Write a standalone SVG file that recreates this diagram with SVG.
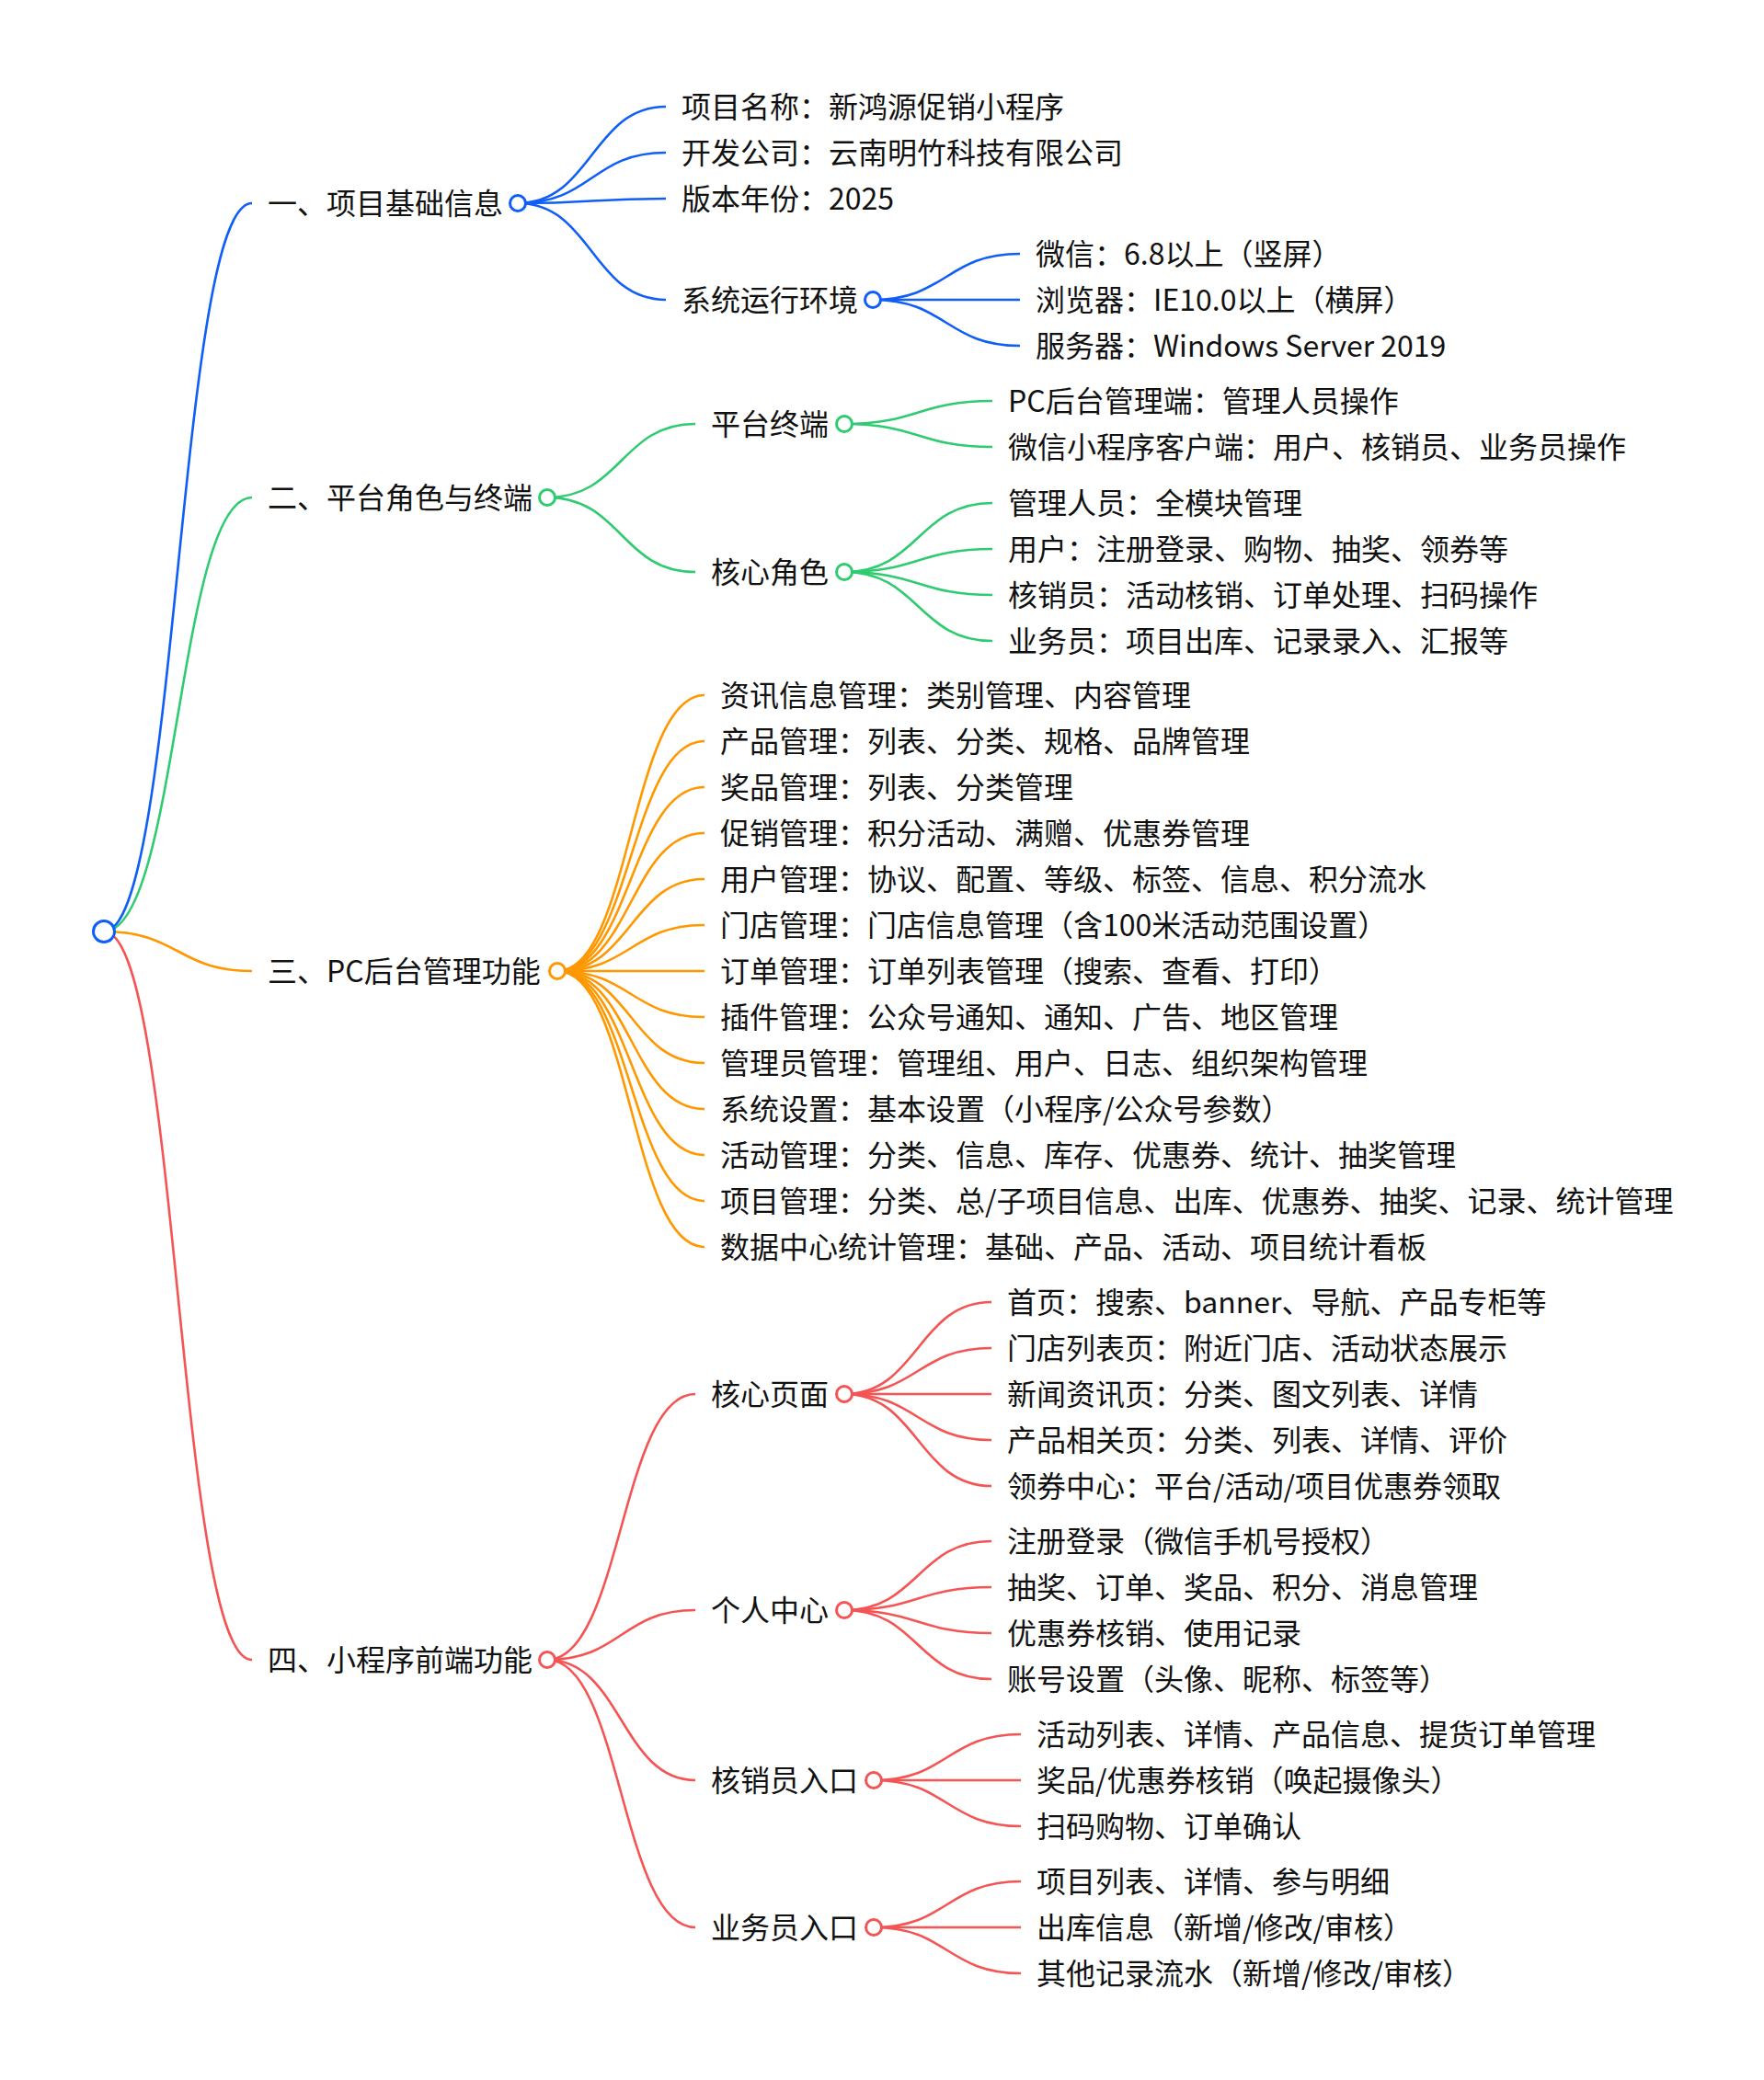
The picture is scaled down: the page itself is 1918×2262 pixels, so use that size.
<svg xmlns="http://www.w3.org/2000/svg" width="1918" height="2262" viewBox="0 0 1918 2262">
<style>
text{font-family:"Noto Sans CJK SC","Microsoft YaHei","Liberation Sans",sans-serif;font-size:32px;fill:#111}
path{fill:none;stroke-width:2.6}
circle{fill:#fff;stroke-width:3}
.b{stroke:#0f5ef7}.g{stroke:#2fcb70}.o{stroke:#ff9800}.r{stroke:#f45454}
</style>
<rect width="1918" height="2262" fill="#fff"/>
<g id="connectors">
<path class="b" d="M113,1013 C193.5,1013 193.5,221 274,221"/>
<path class="g" d="M113,1013 C193.5,1013 193.5,541 274,541"/>
<path class="o" d="M113,1013 C193.5,1013 193.5,1056 274,1056"/>
<path class="r" d="M113,1013 C193.5,1013 193.5,1805 274,1805"/>
<path class="b" d="M563,221 C643.5,221 643.5,116 724,116"/>
<path class="b" d="M563,221 C643.5,221 643.5,166 724,166"/>
<path class="b" d="M563,221 C643.5,221 643.5,216 724,216"/>
<path class="b" d="M563,221 C643.5,221 643.5,326 724,326"/>
<path class="b" d="M949,326 C1029,326 1029,276 1109,276"/>
<path class="b" d="M949,326 C1029,326 1029,326 1109,326"/>
<path class="b" d="M949,326 C1029,326 1029,376 1109,376"/>
<path class="g" d="M595,541 C675.5,541 675.5,461 756,461"/>
<path class="g" d="M595,541 C675.5,541 675.5,622 756,622"/>
<path class="g" d="M918,461 C998.5,461 998.5,436 1079,436"/>
<path class="g" d="M918,461 C998.5,461 998.5,486 1079,486"/>
<path class="g" d="M918,622 C998.5,622 998.5,547 1079,547"/>
<path class="g" d="M918,622 C998.5,622 998.5,597 1079,597"/>
<path class="g" d="M918,622 C998.5,622 998.5,647 1079,647"/>
<path class="g" d="M918,622 C998.5,622 998.5,697 1079,697"/>
<path class="o" d="M606,1056 C686,1056 686,756 766,756"/>
<path class="o" d="M606,1056 C686,1056 686,806 766,806"/>
<path class="o" d="M606,1056 C686,1056 686,856 766,856"/>
<path class="o" d="M606,1056 C686,1056 686,906 766,906"/>
<path class="o" d="M606,1056 C686,1056 686,956 766,956"/>
<path class="o" d="M606,1056 C686,1056 686,1006 766,1006"/>
<path class="o" d="M606,1056 C686,1056 686,1056 766,1056"/>
<path class="o" d="M606,1056 C686,1056 686,1106 766,1106"/>
<path class="o" d="M606,1056 C686,1056 686,1156 766,1156"/>
<path class="o" d="M606,1056 C686,1056 686,1206 766,1206"/>
<path class="o" d="M606,1056 C686,1056 686,1256 766,1256"/>
<path class="o" d="M606,1056 C686,1056 686,1306 766,1306"/>
<path class="o" d="M606,1056 C686,1056 686,1356 766,1356"/>
<path class="r" d="M595,1805 C675.5,1805 675.5,1516 756,1516"/>
<path class="r" d="M595,1805 C675.5,1805 675.5,1751 756,1751"/>
<path class="r" d="M595,1805 C675.5,1805 675.5,1936 756,1936"/>
<path class="r" d="M595,1805 C675.5,1805 675.5,2096 756,2096"/>
<path class="r" d="M918,1516 C998,1516 998,1416 1078,1416"/>
<path class="r" d="M918,1516 C998,1516 998,1466 1078,1466"/>
<path class="r" d="M918,1516 C998,1516 998,1516 1078,1516"/>
<path class="r" d="M918,1516 C998,1516 998,1566 1078,1566"/>
<path class="r" d="M918,1516 C998,1516 998,1616 1078,1616"/>
<path class="r" d="M918,1751 C998,1751 998,1676 1078,1676"/>
<path class="r" d="M918,1751 C998,1751 998,1726 1078,1726"/>
<path class="r" d="M918,1751 C998,1751 998,1776 1078,1776"/>
<path class="r" d="M918,1751 C998,1751 998,1826 1078,1826"/>
<path class="r" d="M950,1936 C1030,1936 1030,1886 1110,1886"/>
<path class="r" d="M950,1936 C1030,1936 1030,1936 1110,1936"/>
<path class="r" d="M950,1936 C1030,1936 1030,1986 1110,1986"/>
<path class="r" d="M950,2096 C1030,2096 1030,2046 1110,2046"/>
<path class="r" d="M950,2096 C1030,2096 1030,2096 1110,2096"/>
<path class="r" d="M950,2096 C1030,2096 1030,2146 1110,2146"/>
</g>
<g id="root"><circle class="b" cx="113" cy="1013" r="11.5"/></g>
<g id="n1"><text x="291" y="233">一、项目基础信息</text><circle class="b" cx="563" cy="221" r="8.5"/></g>
<g id="n1-1"><text x="741" y="128">项目名称：新鸿源促销小程序</text></g>
<g id="n1-2"><text x="741" y="178">开发公司：云南明竹科技有限公司</text></g>
<g id="n1-3"><text x="741" y="228">版本年份：2025</text></g>
<g id="n1-4"><text x="741" y="338">系统运行环境</text><circle class="b" cx="949" cy="326" r="8.5"/></g>
<g id="n1-4-1"><text x="1126" y="288">微信：6.8以上（竖屏）</text></g>
<g id="n1-4-2"><text x="1126" y="338">浏览器：IE10.0以上（横屏）</text></g>
<g id="n1-4-3"><text x="1126" y="388">服务器：Windows Server 2019</text></g>
<g id="n2"><text x="291" y="553">二、平台角色与终端</text><circle class="g" cx="595" cy="541" r="8.5"/></g>
<g id="n2-1"><text x="773" y="473">平台终端</text><circle class="g" cx="918" cy="461" r="8.5"/></g>
<g id="n2-1-1"><text x="1096" y="448">PC后台管理端：管理人员操作</text></g>
<g id="n2-1-2"><text x="1096" y="498">微信小程序客户端：用户、核销员、业务员操作</text></g>
<g id="n2-2"><text x="773" y="634">核心角色</text><circle class="g" cx="918" cy="622" r="8.5"/></g>
<g id="n2-2-1"><text x="1096" y="559">管理人员：全模块管理</text></g>
<g id="n2-2-2"><text x="1096" y="609">用户：注册登录、购物、抽奖、领券等</text></g>
<g id="n2-2-3"><text x="1096" y="659">核销员：活动核销、订单处理、扫码操作</text></g>
<g id="n2-2-4"><text x="1096" y="709">业务员：项目出库、记录录入、汇报等</text></g>
<g id="n3"><text x="291" y="1068">三、PC后台管理功能</text><circle class="o" cx="606" cy="1056" r="8.5"/></g>
<g id="n3-1"><text x="783" y="768">资讯信息管理：类别管理、内容管理</text></g>
<g id="n3-2"><text x="783" y="818">产品管理：列表、分类、规格、品牌管理</text></g>
<g id="n3-3"><text x="783" y="868">奖品管理：列表、分类管理</text></g>
<g id="n3-4"><text x="783" y="918">促销管理：积分活动、满赠、优惠券管理</text></g>
<g id="n3-5"><text x="783" y="968">用户管理：协议、配置、等级、标签、信息、积分流水</text></g>
<g id="n3-6"><text x="783" y="1018">门店管理：门店信息管理（含100米活动范围设置）</text></g>
<g id="n3-7"><text x="783" y="1068">订单管理：订单列表管理（搜索、查看、打印）</text></g>
<g id="n3-8"><text x="783" y="1118">插件管理：公众号通知、通知、广告、地区管理</text></g>
<g id="n3-9"><text x="783" y="1168">管理员管理：管理组、用户、日志、组织架构管理</text></g>
<g id="n3-10"><text x="783" y="1218">系统设置：基本设置（小程序/公众号参数）</text></g>
<g id="n3-11"><text x="783" y="1268">活动管理：分类、信息、库存、优惠券、统计、抽奖管理</text></g>
<g id="n3-12"><text x="783" y="1318">项目管理：分类、总/子项目信息、出库、优惠券、抽奖、记录、统计管理</text></g>
<g id="n3-13"><text x="783" y="1368">数据中心统计管理：基础、产品、活动、项目统计看板</text></g>
<g id="n4"><text x="291" y="1817">四、小程序前端功能</text><circle class="r" cx="595" cy="1805" r="8.5"/></g>
<g id="n4-1"><text x="773" y="1528">核心页面</text><circle class="r" cx="918" cy="1516" r="8.5"/></g>
<g id="n4-1-1"><text x="1095" y="1428">首页：搜索、banner、导航、产品专柜等</text></g>
<g id="n4-1-2"><text x="1095" y="1478">门店列表页：附近门店、活动状态展示</text></g>
<g id="n4-1-3"><text x="1095" y="1528">新闻资讯页：分类、图文列表、详情</text></g>
<g id="n4-1-4"><text x="1095" y="1578">产品相关页：分类、列表、详情、评价</text></g>
<g id="n4-1-5"><text x="1095" y="1628">领券中心：平台/活动/项目优惠券领取</text></g>
<g id="n4-2"><text x="773" y="1763">个人中心</text><circle class="r" cx="918" cy="1751" r="8.5"/></g>
<g id="n4-2-1"><text x="1095" y="1688">注册登录（微信手机号授权）</text></g>
<g id="n4-2-2"><text x="1095" y="1738">抽奖、订单、奖品、积分、消息管理</text></g>
<g id="n4-2-3"><text x="1095" y="1788">优惠券核销、使用记录</text></g>
<g id="n4-2-4"><text x="1095" y="1838">账号设置（头像、昵称、标签等）</text></g>
<g id="n4-3"><text x="773" y="1948">核销员入口</text><circle class="r" cx="950" cy="1936" r="8.5"/></g>
<g id="n4-3-1"><text x="1127" y="1898">活动列表、详情、产品信息、提货订单管理</text></g>
<g id="n4-3-2"><text x="1127" y="1948">奖品/优惠券核销（唤起摄像头）</text></g>
<g id="n4-3-3"><text x="1127" y="1998">扫码购物、订单确认</text></g>
<g id="n4-4"><text x="773" y="2108">业务员入口</text><circle class="r" cx="950" cy="2096" r="8.5"/></g>
<g id="n4-4-1"><text x="1127" y="2058">项目列表、详情、参与明细</text></g>
<g id="n4-4-2"><text x="1127" y="2108">出库信息（新增/修改/审核）</text></g>
<g id="n4-4-3"><text x="1127" y="2158">其他记录流水（新增/修改/审核）</text></g>
</svg>
